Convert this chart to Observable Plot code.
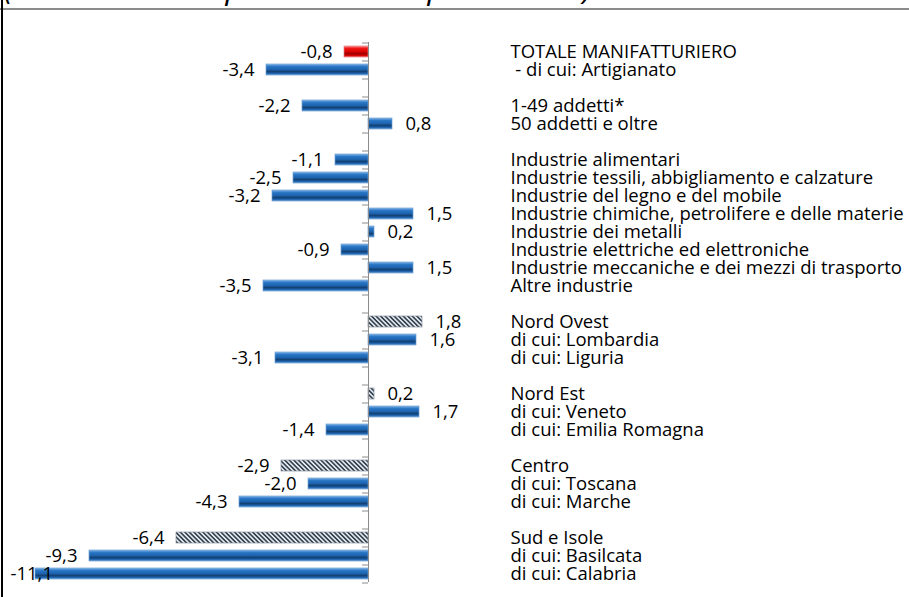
<!DOCTYPE html>
<html><head><meta charset="utf-8">
<script src="https://cdn.jsdelivr.net/npm/d3@7"></script>
<script src="https://cdn.jsdelivr.net/npm/@observablehq/plot@0.6"></script>
<style>
html,body{margin:0;padding:0;background:#fff;}
#wrap{position:relative;width:909px;height:597px;overflow:hidden;background:#fff;}
#chart{position:absolute;left:0;top:0;}
#title{position:absolute;left:4px;top:-27px;font:italic 24px "Open Sans";white-space:nowrap;color:#000;line-height:28px;}
#rule{position:absolute;left:0;top:8px;width:909px;height:2px;background:#8c8c8c;}
#lborder{position:absolute;left:1px;top:0;width:2px;height:597px;background:#000;}
</style></head><body>
<div id="wrap"><div id="chart"></div><div id="title">(variazioni % rispetto all'anno precedente)</div><div id="rule"></div><div id="lborder"></div></div>
<script>
const categories = [
  "TOTALE MANIFATTURIERO",
  " - di cui: Artigianato",
  " ",
  "1-49 addetti*",
  "50 addetti e oltre",
  "  ",
  "Industrie alimentari",
  "Industrie tessili, abbigliamento e calzature",
  "Industrie del legno e del mobile",
  "Industrie chimiche, petrolifere e delle materie plastiche",
  "Industrie dei metalli",
  "Industrie elettriche ed elettroniche",
  "Industrie meccaniche e dei mezzi di trasporto",
  "Altre industrie",
  "   ",
  "Nord Ovest",
  "di cui: Lombardia",
  "di cui: Liguria",
  "    ",
  "Nord Est",
  "di cui: Veneto",
  "di cui: Emilia Romagna",
  "     ",
  "Centro",
  "di cui: Toscana",
  "di cui: Marche",
  "      ",
  "Sud e Isole",
  "di cui: Basilcata",
  "di cui: Calabria"
];
const values = [
  -0.8, -3.4, null,
  -2.2, 0.8, null,
  -1.1, -2.5, -3.2, 1.5, 0.2, -0.9, 1.5, -3.5, null,
  1.8, 1.6, -3.1, null,
  0.2, 1.7, -1.4, null,
  -2.9, -2.0, -4.3, null,
  -6.4, -9.3, -11.1
];
const kinds = [
  "totale", "dettaglio", null,
  "dettaglio", "dettaglio", null,
  "dettaglio", "dettaglio", "dettaglio", "dettaglio", "dettaglio", "dettaglio", "dettaglio", "dettaglio", null,
  "area", "dettaglio", "dettaglio", null,
  "area", "dettaglio", "dettaglio", null,
  "area", "dettaglio", "dettaglio", null,
  "area", "dettaglio", "dettaglio"
];

const data = categories.map((c, i) => ({cat: c, value: values[i], kind: kinds[i]}));
const bars = data.filter(d => d.value != null);
const fmt = v => v.toFixed(1).replace(".", ",");
const last = categories[categories.length - 1];

const chart = Plot.plot({
  width: 909, height: 597,
  marginTop: 42, marginBottom: 15, marginLeft: 23, marginRight: 406,
  style: {fontFamily: "Open Sans", fontSize: "18.5px", color: "#000", background: "transparent"},
  x: {domain: [-11.5, 4.5], axis: null},
  y: {domain: categories, paddingInner: 0.4, paddingOuter: 0.2, axis: "right", tickSize: 0, tickPadding: 7, label: null},
  marks: [
    Plot.barX(bars.filter(d => d.kind === "dettaglio"), {x: "value", y: "cat", fill: "url(#gBlue)", stroke: "#6e9fd2", strokeWidth: 0.7}),
    Plot.barX(bars.filter(d => d.kind === "totale"), {x: "value", y: "cat", fill: "url(#gRed)", stroke: "#e08080", strokeWidth: 0.7}),
    Plot.barX(bars.filter(d => d.kind === "area"), {x: "value", y: "cat", fill: "url(#hatch)", stroke: "#8a96a3", strokeWidth: 0.7}),
    Plot.ruleX([0], {stroke: "#8c8c8c", strokeWidth: 1}),
    Plot.ruleY(categories, {y: d => d, x1: -0.2, x2: 0, dy: -9, stroke: "#8c8c8c"}),
    Plot.ruleY([last], {y: d => d, x1: -0.2, x2: 0, dy: 9, stroke: "#8c8c8c"}),
    Plot.text(bars.filter(d => d.value >= 0), {x: "value", y: "cat", text: d => fmt(d.value), textAnchor: "start", dx: 13, fill: "#000"}),
    Plot.text(bars.filter(d => d.value < 0 && d.value > -10.5), {x: "value", y: "cat", text: d => fmt(d.value), textAnchor: "end", dx: -12, fill: "#000"}),
    Plot.text(bars.filter(d => d.value <= -10.5), {y: "cat", frameAnchor: "left", text: d => fmt(d.value), textAnchor: "start", dx: -13, fill: "#000"})
  ]
});

const ns = "http://www.w3.org/2000/svg";
const defs = document.createElementNS(ns, "defs");
defs.innerHTML = `
<linearGradient id="gBlue" x1="0" y1="0" x2="0" y2="1">
  <stop offset="0" stop-color="#8dbdea"/>
  <stop offset="0.2" stop-color="#2c79c9"/>
  <stop offset="0.5" stop-color="#1c62ad"/>
  <stop offset="0.7" stop-color="#133f70"/>
  <stop offset="0.86" stop-color="#1f66b3"/>
  <stop offset="1" stop-color="#6a9fd4"/>
</linearGradient>
<linearGradient id="gRed" x1="0" y1="0" x2="0" y2="1">
  <stop offset="0" stop-color="#ff9a9a"/>
  <stop offset="0.2" stop-color="#f01818"/>
  <stop offset="0.5" stop-color="#dd0000"/>
  <stop offset="0.7" stop-color="#9a0000"/>
  <stop offset="0.86" stop-color="#d80000"/>
  <stop offset="1" stop-color="#f06060"/>
</linearGradient>
<pattern id="hatch" patternUnits="userSpaceOnUse" width="3.2" height="3.2" patternTransform="rotate(-45)">
  <rect width="3.2" height="3.2" fill="#e3e8ee"/>
  <rect width="1.6" height="3.2" fill="#34414f"/>
</pattern>`;
chart.prepend(defs);
document.getElementById("chart").appendChild(chart);

// fit the (cropped) title to the span it covers in the reference
const t = document.getElementById("title");
const w = t.getBoundingClientRect().width;
t.style.fontSize = (24 * 588 / w) + "px";
</script>
</body></html>
